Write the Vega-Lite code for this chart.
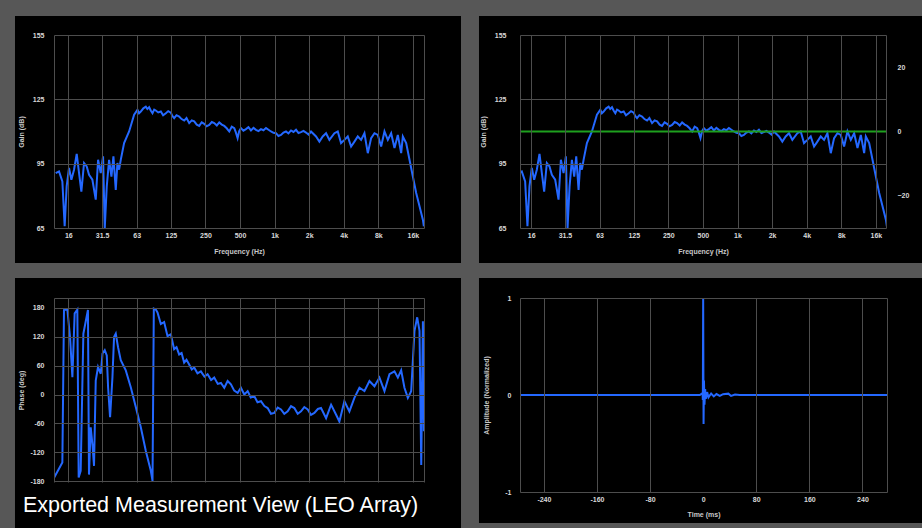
{
  "$schema": "https://vega.github.io/schema/vega-lite/v6.json",
  "background": "#575757",
  "padding": {"left": 14, "top": 16, "right": 0, "bottom": 0},
  "autosize": {"type": "pad"},
  "config": {
    "view": {"stroke": null},
    "concat": {"spacing": 16},
    "axis": {"zindex": 1, "grid": true, "gridColor": "#4d4d4d", "gridWidth": 1, "domain": false, "ticks": false, "labelColor": "#d8d8d8", "labelFont": "Liberation Sans", "labelFontSize": 7, "labelFontWeight": "bold", "titleColor": "#c8c8c8", "titleFont": "Liberation Sans", "titleFontSize": 7, "titleFontWeight": "bold", "labelOverlap": false, "labelFlush": false}
  },
  "datasets": {
    "mag": [
      {"f":12.41,"g":90.6},{"f":13.27,"g":91.4},{"f":14.19,"g":86.7},{"f":14.86,"g":65.8},{"f":15.47,"g":84.4},{"f":16.22,"g":93},{"f":17.0,"g":87.5},{"f":17.93,"g":92.2},{"f":18.92,"g":99.6},{"f":19.83,"g":90.6},{"f":20.77,"g":82},{"f":21.92,"g":95.3},{"f":23.12,"g":93.7},{"f":24.23,"g":89.8},{"f":25.91,"g":87.5},{"f":27.71,"g":78.2},{"f":29.04,"g":96.8},{"f":30.63,"g":90.6},{"f":32.1,"g":98.4},{"f":33.2,"g":65},{"f":34.56,"g":84.4},{"f":36.21,"g":96.8},{"f":37.95,"g":89},{"f":39.5,"g":98.4},{"f":41.39,"g":82.8},{"f":42.8,"g":95.3},{"f":44.26,"g":92.2},{"f":45.76,"g":96.8},{"f":48.93,"g":104.6},{"f":54.1,"g":110},{"f":59.82,"g":117.8},{"f":63.97,"g":120.1},{"f":66,"g":118.5},{"f":68.39,"g":119.3},{"f":72,"g":120.8},{"f":75.62,"g":121.6},{"f":78,"g":120.5},{"f":80.85,"g":121.3},{"f":83.5,"g":119.8},{"f":86.45,"g":118.5},{"f":89.5,"g":120.2},{"f":92.43,"g":119.8},{"f":97,"g":118.9},{"f":102.2,"g":119.3},{"f":107,"g":117.6},{"f":113,"g":118.5},{"f":118.5,"g":119.5},{"f":124.9,"g":118.8},{"f":129,"g":117.2},{"f":133.5,"g":116.2},{"f":140,"g":117.6},{"f":147.7,"g":117},{"f":155,"g":115.8},{"f":163.3,"g":115.1},{"f":171,"g":116.3},{"f":180.5,"g":113.9},{"f":190,"g":115.2},{"f":199.6,"g":114.7},{"f":210,"g":113.2},{"f":220.6,"g":112.6},{"f":232,"g":114.3},{"f":244,"g":113.6},{"f":256,"g":112.4},{"f":269.7,"g":113.1},{"f":284,"g":114.4},{"f":298.2,"g":113.9},{"f":314,"g":112.8},{"f":329.7,"g":114.2},{"f":347,"g":113.2},{"f":364.5,"g":112.6},{"f":383,"g":111.5},{"f":403,"g":110},{"f":424,"g":112.3},{"f":445.6,"g":111.6},{"f":460,"g":109.6},{"f":476.4,"g":106.9},{"f":492,"g":110.2},{"f":509.4,"g":111.6},{"f":535,"g":110.4},{"f":563.2,"g":111.1},{"f":592,"g":112.0},{"f":622.7,"g":110.5},{"f":655,"g":111.7},{"f":688.4,"g":110.8},{"f":724,"g":110.2},{"f":761,"g":111.1},{"f":800,"g":110.6},{"f":841.5,"g":111.6},{"f":885,"g":110.8},{"f":930.4,"g":110},{"f":978,"g":109.4},{"f":1028.6,"g":109.2},{"f":1080,"g":107.9},{"f":1137,"g":108.4},{"f":1195,"g":109.5},{"f":1257,"g":110},{"f":1320,"g":109.1},{"f":1390,"g":110.5},{"f":1460,"g":109.8},{"f":1537,"g":110.8},{"f":1615,"g":109.3},{"f":1699,"g":109.7},{"f":1785,"g":110.3},{"f":1878,"g":109.5},{"f":1975,"g":108.6},{"f":2077,"g":110},{"f":2296,"g":107.7},{"f":2455,"g":105.3},{"f":2625,"g":107.7},{"f":2807,"g":109.2},{"f":3001,"g":106.1},{"f":3318,"g":109.2},{"f":3548,"g":110},{"f":3793,"g":104.6},{"f":4056,"g":106.1},{"f":4337,"g":107.7},{"f":4637,"g":103},{"f":4958,"g":105.3},{"f":5301,"g":107.7},{"f":5668,"g":106.1},{"f":6060,"g":109.2},{"f":6480,"g":99.9},{"f":6928,"g":106.9},{"f":7408,"g":109.2},{"f":7920,"g":108.4},{"f":8468,"g":103},{"f":9055,"g":110},{"f":9681,"g":106.1},{"f":10351,"g":109.2},{"f":11068,"g":102.3},{"f":11833,"g":108.4},{"f":12653,"g":99.9},{"f":13084,"g":107.7},{"f":13990,"g":104.6},{"f":14958,"g":96.8},{"f":15994,"g":89},{"f":17100,"g":81.3},{"f":18284,"g":75.1},{"f":19550,"g":68.9},{"f":19948,"g":65.8}
    ],
    "phase": [
      {"f":12.05,"p":-172},{"f":14.19,"p":-141},{"f":14.66,"p":175},{"f":15.69,"p":176},{"f":16.55,"p":119},{"f":17.35,"p":36},{"f":18.16,"p":168},{"f":19.16,"p":176},{"f":19.68,"p":-172},{"f":20.49,"p":-158},{"f":21.62,"p":126},{"f":23.7,"p":175},{"f":24.2,"p":-166},{"f":25.05,"p":-68},{"f":25.92,"p":-103},{"f":26.77,"p":-148},{"f":27.71,"p":29},{"f":29.02,"p":57},{"f":30.64,"p":43},{"f":31.73,"p":85},{"f":33.2,"p":92},{"f":34.57,"p":81},{"f":35.49,"p":15},{"f":36.94,"p":-47},{"f":38.74,"p":36},{"f":40.0,"p":119},{"f":41.41,"p":126},{"f":43.35,"p":98},{"f":45.76,"p":71},{"f":50.6,"p":50},{"f":55.95,"p":15},{"f":61.86,"p":-26},{"f":68.4,"p":-68},{"f":75.63,"p":-117},{"f":83.6,"p":-158},{"f":86.5,"p":-179},{"f":88.8,"p":178},{"f":92.4,"p":176},{"f":95.6,"p":170},{"f":102.2,"p":146},{"f":109.2,"p":150},{"f":116.9,"p":121},{"f":124.9,"p":125},{"f":133.4,"p":94},{"f":140,"p":98},{"f":147.5,"p":83},{"f":155,"p":86},{"f":163.1,"p":66},{"f":171,"p":72},{"f":180.4,"p":62},{"f":190,"p":52},{"f":199.5,"p":56},{"f":213,"p":44},{"f":228,"p":48},{"f":245,"p":37},{"f":261,"p":42},{"f":280,"p":30},{"f":298,"p":35},{"f":320,"p":22},{"f":341,"p":24},{"f":364.6,"p":14},{"f":390,"p":28},{"f":416.8,"p":21},{"f":445,"p":8},{"f":477,"p":3.5},{"f":509,"p":14},{"f":545,"p":0},{"f":583,"p":7},{"f":620,"p":-6},{"f":666,"p":-3.5},{"f":710,"p":-16},{"f":761,"p":-14},{"f":815,"p":-24},{"f":870,"p":-28},{"f":930,"p":-40},{"f":994,"p":-38},{"f":1065,"p":-27},{"f":1137,"p":-31},{"f":1215,"p":-40},{"f":1300,"p":-35},{"f":1390,"p":-24},{"f":1486,"p":-28},{"f":1590,"p":-40},{"f":1699,"p":-35},{"f":1815,"p":-26},{"f":1943,"p":-31},{"f":2075,"p":-42},{"f":2220,"p":-38},{"f":2380,"p":-30},{"f":2538,"p":-28},{"f":2808,"p":-49},{"f":3105,"p":-21},{"f":3434,"p":-42},{"f":3666,"p":-56},{"f":4054,"p":-14},{"f":4482,"p":-35},{"f":4956,"p":-7},{"f":5480,"p":14},{"f":6059,"p":7},{"f":6700,"p":28},{"f":7408,"p":17},{"f":8187,"p":35},{"f":9052,"p":7},{"f":10010,"p":42},{"f":11067,"p":48},{"f":11843,"p":35},{"f":12653,"p":50},{"f":13515,"p":14},{"f":14470,"p":-7},{"f":15470,"p":7},{"f":16530,"p":132},{"f":17450,"p":160},{"f":18280,"p":132},{"f":18920,"p":-146},{"f":19570,"p":152},{"f":19960,"p":-76}
    ],
    "impulse": [
      {"t":-276,"a":0},{"t":-5,"a":0},{"t":-1,"a":0.02},{"t":-0.5,"a":-0.05},{"t":0,"a":1},{"t":0.6,"a":-0.3},{"t":1.2,"a":0.15},{"t":2,"a":-0.1},{"t":3,"a":0.06},{"t":4,"a":-0.04},{"t":6,"a":0.03},{"t":8,"a":-0.025},{"t":12,"a":0.015},{"t":16,"a":-0.015},{"t":20,"a":0.01},{"t":25,"a":-0.01},{"t":30,"a":0.008},{"t":38,"a":0.014},{"t":42,"a":-0.01},{"t":48,"a":0.005},{"t":55,"a":0},{"t":277,"a":0}
    ]
  },
  "spacing": 14,
  "vconcat": [
    {
      "spacing": 16,
      "hconcat": [
        {
          "width": 370,
          "height": 193,
          "layer": [
            {
              "data": {"values": [{}]},
              "mark": {"type": "rect", "color": "#000000"},
              "encoding": {
                "x": {"datum": 5.49, "type": "quantitative", "scale": {"type": "log", "domain": [12, 20000], "nice": false}, "title": "Frequency (Hz)"},
                "x2": {"datum": 41998},
                "y": {"datum": 163.86, "type": "quantitative", "scale": {"domain": [65, 155], "nice": false, "zero": false}, "title": "Gain (dB)"},
                "y2": {"datum": 48.68}
              }
            },
            {
              "data": {"name": "mag"},
              "mark": {"type": "line", "color": "#2468ff", "strokeWidth": 2, "clip": true},
              "encoding": {
                "x": {"field": "f", "type": "quantitative", "scale": {"type": "log", "domain": [12, 20000], "nice": false}, "axis": {"zindex": 1, "tickCount": 40, "labelOverlap": false, "values": [12, 16, 31.5, 63, 125, 250, 500, 1000, 2000, 4000, 8000, 16000, 20000], "labelExpr": "datum.value < 13 || datum.value > 19000 ? '' : datum.value >= 1000 ? (datum.value / 1000) + 'k' : '' + datum.value", "title": "Frequency (Hz)", "labelPadding": 3, "titlePadding": 9}},
                "y": {"field": "g", "type": "quantitative", "scale": {"domain": [65, 155], "nice": false, "zero": false}, "axis": {"zindex": 1, "tickCount": 40, "labelOverlap": false, "values": [65, 95, 125, 155], "title": "Gain (dB)", "labelPadding": 10, "titlePadding": 8}}
              }
            }
          ]
        },
        {
          "width": 366,
          "height": 193,
          "resolve": {"scale": {"y": "independent"}},
          "layer": [
            {
              "layer": [
                {
                  "data": {"values": [{}]},
                  "mark": {"type": "rect", "color": "#000000"},
                  "encoding": {
                    "x": {"datum": 5.628, "type": "quantitative", "scale": {"type": "log", "domain": [12.8, 19600], "nice": false}, "title": "Frequency (Hz)"},
                    "x2": {"datum": 41973},
                    "y": {"datum": 163.86, "type": "quantitative", "scale": {"domain": [65, 155], "nice": false, "zero": false}, "title": "Gain (dB)"},
                    "y2": {"datum": 48.68}
                  }
                },
                {
                  "data": {"name": "mag"},
                  "mark": {"type": "line", "color": "#2468ff", "strokeWidth": 2, "clip": true},
                  "encoding": {
                    "x": {"field": "f", "type": "quantitative", "scale": {"type": "log", "domain": [12.8, 19600], "nice": false}, "axis": {"zindex": 1, "tickCount": 40, "labelOverlap": false, "values": [12.8, 16, 31.5, 63, 125, 250, 500, 1000, 2000, 4000, 8000, 16000, 19600], "labelExpr": "datum.value < 13 || datum.value > 19000 ? '' : datum.value >= 1000 ? (datum.value / 1000) + 'k' : '' + datum.value", "title": "Frequency (Hz)", "labelPadding": 3, "titlePadding": 9}},
                    "y": {"field": "g", "type": "quantitative", "scale": {"domain": [65, 155], "nice": false, "zero": false}, "axis": {"zindex": 1, "tickCount": 40, "labelOverlap": false, "values": [65, 95, 125, 155], "title": "Gain (dB)", "labelPadding": 14, "titlePadding": 8}}
                  }
                }
              ]
            },
            {
              "data": {"values": [{}]},
              "mark": {"type": "rule", "color": "#1ea01e", "strokeWidth": 2},
              "encoding": {
                "y": {"datum": 0, "type": "quantitative", "scale": {"domain": [-30, 30], "nice": false, "zero": false}, "axis": {"zindex": 1, "tickCount": 40, "labelOverlap": false, "orient": "right", "values": [-20, 0, 20], "grid": false, "title": null, "labelPadding": 11}}
              }
            }
          ]
        }
      ]
    },
    {
      "spacing": 16,
      "hconcat": [
        {
          "width": 370,
          "height": 184,
          "layer": [
            {
              "data": {"values": [{}]},
              "mark": {"type": "rect", "color": "#000000"},
              "encoding": {
                "x": {"datum": 5.49, "type": "quantitative", "scale": {"type": "log", "domain": [12, 20000], "nice": false}, "title": null},
                "x2": {"datum": 41998},
                "y": {"datum": 241.45, "type": "quantitative", "scale": {"domain": [-181.3, 200], "nice": false, "zero": false}, "title": "Phase (deg)"},
                "y2": {"datum": -276.6}
              }
            },
            {
              "data": {"name": "phase"},
              "mark": {"type": "line", "color": "#2468ff", "strokeWidth": 2, "clip": true},
              "encoding": {
                "x": {"field": "f", "type": "quantitative", "scale": {"type": "log", "domain": [12, 20000], "nice": false}, "axis": {"zindex": 1, "tickCount": 40, "labelOverlap": false, "values": [12, 16, 31.5, 63, 125, 250, 500, 1000, 2000, 4000, 8000, 16000, 20000], "labels": false, "title": null}},
                "y": {"field": "p", "type": "quantitative", "scale": {"domain": [-181.3, 200], "nice": false, "zero": false}, "axis": {"zindex": 1, "tickCount": 40, "labelOverlap": false, "values": [-180, -120, -60, 0, 60, 120, 180, 200], "labelExpr": "datum.value == 200 ? '' : '' + datum.value", "title": "Phase (deg)", "labelPadding": 10, "titlePadding": 5}}
              }
            },
            {
              "data": {"values": [{}]},
              "mark": {"type": "rect", "color": "#000000"},
              "encoding": {
                "x": {"datum": 5.49, "type": "quantitative", "scale": {"type": "log", "domain": [12, 20000], "nice": false}, "title": null},
                "x2": {"datum": 25960},
                "y": {"datum": -181.3, "type": "quantitative", "scale": {"domain": [-181.3, 200], "nice": false, "zero": false}, "title": "Phase (deg)"},
                "y2": {"datum": -276.6}
              }
            },
            {
              "data": {"values": [{}]},
              "mark": {"type": "text", "align": "left", "baseline": "alphabetic", "color": "#ffffff", "font": "Liberation Sans", "fontSize": 21.5},
              "encoding": {
                "x": {"datum": 6.445, "type": "quantitative", "scale": {"type": "log", "domain": [12, 20000], "nice": false}, "title": null},
                "y": {"datum": -243.5, "type": "quantitative", "scale": {"domain": [-181.3, 200], "nice": false, "zero": false}, "title": "Phase (deg)"},
                "text": {"value": "Exported Measurement View (LEO Array)"}
              }
            }
          ]
        },
        {
          "width": 367,
          "height": 194,
          "layer": [
            {
              "data": {"values": [{}]},
              "mark": {"type": "rect", "color": "#000000"},
              "encoding": {
                "x": {"datum": -337.8, "type": "quantitative", "scale": {"domain": [-276, 277], "nice": false, "zero": false}, "title": "Time (ms)"},
                "x2": {"datum": 332.75},
                "y": {"datum": 1.2062, "type": "quantitative", "scale": {"domain": [-1, 1], "nice": false, "zero": false}, "title": "Amplitude (Normalized)"},
                "y2": {"datum": -1.3196}
              }
            },
            {
              "data": {"name": "impulse"},
              "mark": {"type": "line", "color": "#2468ff", "strokeWidth": 2, "clip": true},
              "encoding": {
                "x": {"field": "t", "type": "quantitative", "scale": {"domain": [-276, 277], "nice": false, "zero": false}, "axis": {"zindex": 1, "tickCount": 40, "labelOverlap": false, "values": [-276, -240, -160, -80, 0, 80, 160, 240, 277], "labelExpr": "abs(datum.value) > 250 ? '' : '' + datum.value", "gridOpacity": {"condition": {"test": "datum.value === 0", "value": 0}, "value": 1}, "title": "Time (ms)", "labelPadding": 3, "titlePadding": 8}},
                "y": {"field": "a", "type": "quantitative", "scale": {"domain": [-1, 1], "nice": false, "zero": false}, "axis": {"zindex": 1, "tickCount": 40, "labelOverlap": false, "values": [-1, 0, 1], "labelExpr": "'' + datum.value", "gridOpacity": {"condition": {"test": "datum.value === 0", "value": 0}, "value": 1}, "title": "Amplitude (Normalized)", "labelPadding": 9, "titlePadding": 15}}
              }
            }
          ]
        }
      ]
    }
  ]
}
